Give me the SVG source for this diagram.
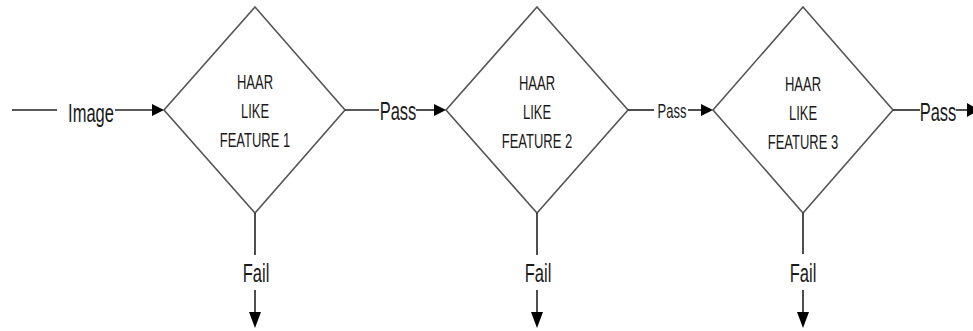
<svg xmlns="http://www.w3.org/2000/svg" width="973" height="331" viewBox="0 0 973 331">
  <defs>
    <style>
      .bg { fill: #ffffff; }
      .stage { fill: #ffffff; stroke: #555555; stroke-width: 1.6; stroke-linejoin: miter; }
      .wire { fill: none; stroke: #222222; stroke-width: 1.6; }
      .head { fill: #000000; }
      .lbl { font-family: "Liberation Sans", Arial, sans-serif; fill: #1a1a1a; text-anchor: middle; }
      .big { font-size: 16.5px; }
      .mid { font-size: 13px; }
      .box { font-size: 13px; }
    </style>
  </defs>

  <rect class="bg" x="0" y="0" width="973" height="331"/>

  <!-- classifier stages -->
  <g id="stage1">
    <polygon class="stage" points="255,7 345,110 255,213 164,110"/>
    <text class="lbl box" transform="translate(255,89) scale(1,1.5)">HAAR</text>
    <text class="lbl box" transform="translate(255,118) scale(1,1.5)">LIKE</text>
    <text class="lbl box" transform="translate(255,147) scale(1,1.5)">FEATURE 1</text>
  </g>

  <g id="stage2">
    <polygon class="stage" points="537,7 628,110 537,213 446,110"/>
    <text class="lbl box" transform="translate(537,90) scale(1,1.5)">HAAR</text>
    <text class="lbl box" transform="translate(537,119) scale(1,1.5)">LIKE</text>
    <text class="lbl box" transform="translate(537,148) scale(1,1.5)">FEATURE 2</text>
  </g>

  <g id="stage3">
    <polygon class="stage" points="803,7 893,110 803,213 713,110"/>
    <text class="lbl box" transform="translate(803,91) scale(1,1.5)">HAAR</text>
    <text class="lbl box" transform="translate(803,120) scale(1,1.5)">LIKE</text>
    <text class="lbl box" transform="translate(803,149) scale(1,1.5)">FEATURE 3</text>
  </g>

  <!-- flow lines, labels and arrowheads -->
  <g id="connectors">
    <!-- input -->
    <line class="wire" x1="12" y1="110" x2="57" y2="110"/>
    <text class="lbl big" transform="translate(91,122) scale(1,1.55)">Image</text>
    <line class="wire" x1="115" y1="110" x2="153" y2="110"/>
    <polygon class="head" points="152,104 164,110 152,116"/>

    <!-- stage 1 pass -->
    <line class="wire" x1="345" y1="110" x2="379" y2="110"/>
    <text class="lbl big" transform="translate(398,120) scale(1,1.55)">Pass</text>
    <line class="wire" x1="416" y1="110" x2="435" y2="110"/>
    <polygon class="head" points="434,104 446,110 434,116"/>

    <!-- stage 2 pass -->
    <line class="wire" x1="628" y1="110" x2="654" y2="110"/>
    <text class="lbl mid" transform="translate(672,118) scale(1,1.5)">Pass</text>
    <line class="wire" x1="688" y1="110" x2="702" y2="110"/>
    <polygon class="head" points="701,104 713,110 701,116"/>

    <!-- stage 3 pass -->
    <line class="wire" x1="893" y1="110" x2="920" y2="110"/>
    <text class="lbl big" transform="translate(938,121) scale(1,1.55)">Pass</text>
    <line class="wire" x1="956" y1="110" x2="968" y2="110"/>
    <polygon class="head" points="967,103 979,110 967,117"/>

    <!-- fail exits -->
    <line class="wire" x1="255" y1="213" x2="255" y2="255"/>
    <text class="lbl big" transform="translate(256,282) scale(1,1.6)">Fail</text>
    <line class="wire" x1="255" y1="290" x2="255" y2="314"/>
    <polygon class="head" points="249,312 261,312 255,328"/>

    <line class="wire" x1="537" y1="213" x2="537" y2="255"/>
    <text class="lbl big" transform="translate(538,282) scale(1,1.6)">Fail</text>
    <line class="wire" x1="537" y1="290" x2="537" y2="314"/>
    <polygon class="head" points="531,312 543,312 537,328"/>

    <line class="wire" x1="803" y1="213" x2="803" y2="254"/>
    <text class="lbl big" transform="translate(803,282) scale(1,1.6)">Fail</text>
    <line class="wire" x1="803" y1="290" x2="803" y2="314"/>
    <polygon class="head" points="797,312 809,312 803,328"/>
  </g>
</svg>
